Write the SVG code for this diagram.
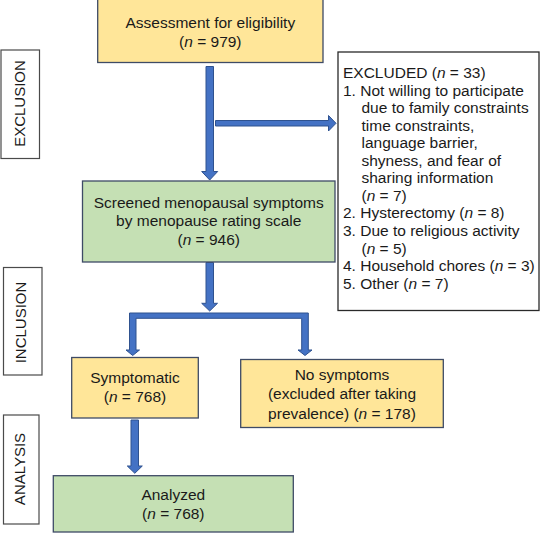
<svg xmlns="http://www.w3.org/2000/svg" width="540" height="533" viewBox="0 0 540 533">
<style>
  .t{font-family:"Liberation Sans",Arial,sans-serif;font-size:15.5px;fill:#1a1a1a}
  .c{text-anchor:middle}
  .lab{font-family:"Liberation Sans",Arial,sans-serif;font-size:15px;fill:#1a1a1a;text-anchor:middle}
  .yel{fill:#FFE699;stroke:#3E4B66;stroke-width:1.3}
  .grn{fill:#C5E0B4;stroke:#3E4B66;stroke-width:1.3}
  .wb{fill:#fff;stroke:#2a2a2a;stroke-width:1.3}
  .lb{fill:#fff;stroke:#4a4a4a;stroke-width:1.2}
  .arr{fill:#4472C4;stroke:#2F528F;stroke-width:1}
</style>

<g id="label-exclusion">
  <rect class="lb" x="1" y="50" width="38.5" height="108.5"/>
  <text class="lab" transform="translate(24.5,103.5) rotate(-90)">EXCLUSION</text>
</g>
<g id="label-inclusion">
  <rect class="lb" x="3.5" y="267.5" width="38.5" height="107.5"/>
  <text class="lab" transform="translate(26,322.5) rotate(-90)">INCLUSION</text>
</g>
<g id="label-analysis">
  <rect class="lb" x="3.5" y="415" width="35.5" height="109"/>
  <text class="lab" transform="translate(24.5,469) rotate(-90)">ANALYSIS</text>
</g>

<g id="connectors">
  <polygon class="arr" points="206,66.5 213.5,66.5 213.5,171.5 217.7,171.5 209.7,180 201.7,171.5 206,171.5"/>
  <polygon class="arr" points="215.5,120.5 328.5,120.5 328.5,115.5 336,123.3 328.5,131 328.5,126 215.5,126"/>
  <polygon class="arr" points="206,262.5 213.5,262.5 213.5,303.3 217.5,303.3 209.7,311 201.7,303.3 206,303.3"/>
  <polygon class="arr" points="129.5,313 308.3,313 308.3,350 312,350 305,355.5 298,350 301.7,350 301.7,318.3 136,318.3 136,350 139.5,350 132.7,355.5 126,350 129.5,350"/>
  <polygon class="arr" points="131,420 138.5,420 138.5,466 142.3,466 134.8,473.3 127.3,466 131,466"/>
</g>

<g id="node-assessment">
  <rect class="yel" x="97.7" y="-1" width="225.3" height="63.5"/>
  <text class="t c" x="210.3" y="28">Assessment for eligibility</text>
  <text class="t c" x="210.3" y="47">(<tspan font-style="italic">n</tspan> = 979)</text>
</g>

<g id="node-excluded">
  <rect class="wb" x="338" y="52" width="201" height="258.5"/>
  <text class="t" x="343" y="78">EXCLUDED (<tspan font-style="italic">n</tspan> = 33)</text>
  <text class="t" x="343" y="95.5">1. Not willing to participate</text>
  <text class="t" x="361.5" y="113">due to family constraints</text>
  <text class="t" x="361.5" y="130.7">time constraints,</text>
  <text class="t" x="361.5" y="148.2">language barrier,</text>
  <text class="t" x="361.5" y="165.8">shyness, and fear of</text>
  <text class="t" x="361.5" y="183.3">sharing information</text>
  <text class="t" x="361.5" y="200.9">(<tspan font-style="italic">n</tspan> = 7)</text>
  <text class="t" x="343" y="218.4">2. Hysterectomy (<tspan font-style="italic">n</tspan> = 8)</text>
  <text class="t" x="343" y="236">3. Due to religious activity</text>
  <text class="t" x="361.5" y="253.5">(<tspan font-style="italic">n</tspan> = 5)</text>
  <text class="t" x="343" y="271">4. Household chores (<tspan font-style="italic">n</tspan> = 3)</text>
  <text class="t" x="343" y="288.6">5. Other (<tspan font-style="italic">n</tspan> = 7)</text>
</g>

<g id="node-screened">
  <rect class="grn" x="82.5" y="181" width="252.5" height="81"/>
  <text class="t c" x="208.7" y="207.5">Screened menopausal symptoms</text>
  <text class="t c" x="208.7" y="226">by menopause rating scale</text>
  <text class="t c" x="208.7" y="245">(<tspan font-style="italic">n</tspan> = 946)</text>
</g>

<g id="node-symptomatic">
  <rect class="yel" x="71.7" y="357.5" width="126.6" height="60.5"/>
  <text class="t c" x="135" y="383">Symptomatic</text>
  <text class="t c" x="135" y="402">(<tspan font-style="italic">n</tspan> = 768)</text>
</g>

<g id="node-nosymptoms">
  <rect class="yel" x="240.7" y="359.5" width="202.6" height="68"/>
  <text class="t c" x="342" y="379.5">No symptoms</text>
  <text class="t c" x="342" y="399">(excluded after taking</text>
  <text class="t c" x="342" y="418.5">prevalence) (<tspan font-style="italic">n</tspan> = 178)</text>
</g>

<g id="node-analyzed">
  <rect class="grn" x="53.3" y="475.7" width="240" height="56.3"/>
  <text class="t c" x="173.3" y="499.5">Analyzed</text>
  <text class="t c" x="173.3" y="518.5">(<tspan font-style="italic">n</tspan> = 768)</text>
</g>
</svg>
